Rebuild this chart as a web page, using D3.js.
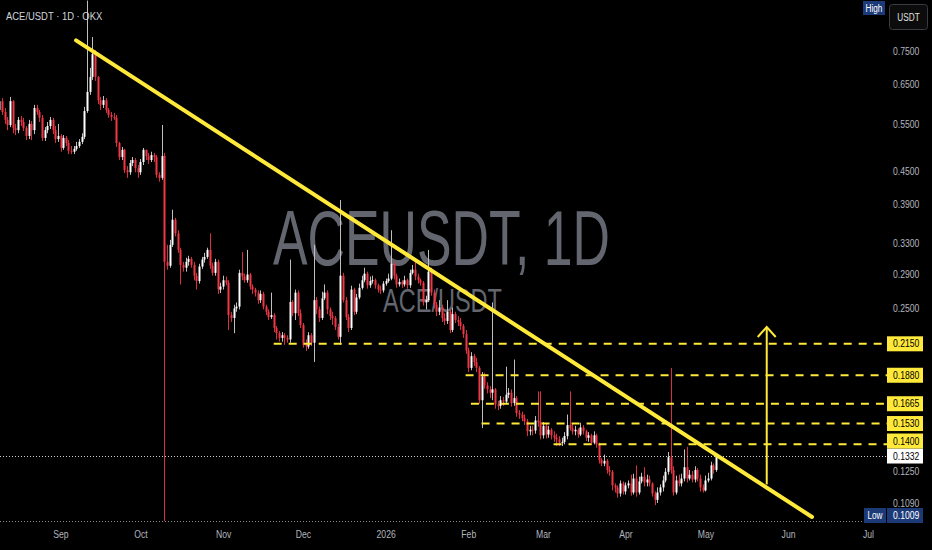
<!DOCTYPE html>
<html><head><meta charset="utf-8">
<script src="https://cdn.jsdelivr.net/npm/d3@7"></script>
<style>html,body{margin:0;padding:0;background:#000;}svg{display:block;}</style>
</head><body>
<svg id="c" width="932" height="550"></svg>
<script>
// ---------- DATA ----------
const firstDay = "2025-08-09";
const firstOpen = 0.583;
const closes = [
0.6055,0.578,0.559,0.547,0.6055,0.540,0.535,0.559,0.554,0.540,
0.522,0.5495,0.535,0.588,0.578,0.564,0.5175,0.535,0.5445,0.559,
0.535,0.515,0.522,0.496,0.5175,0.5065,0.490,0.488,0.494,0.500,
0.509,0.520,0.5805,0.630,0.6715,0.740,0.6715,0.608,0.596,0.608,
0.583,0.571,0.566,0.564,0.5065,0.477,0.492,0.451,0.447,0.465,
0.471,0.455,0.447,0.467,0.492,0.479,0.471,0.481,0.477,0.442,
0.4365,0.479,0.305,0.300,0.328,0.365,0.3445,0.321,0.301,0.2975,
0.305,0.309,0.301,0.2875,0.281,0.299,0.308,0.3115,0.321,0.300,
0.291,0.305,0.271,0.2745,0.282,0.279,0.243,0.240,0.250,0.252,
0.291,0.2865,0.282,0.289,0.2745,0.271,0.2675,0.259,0.266,0.252,
0.2465,0.241,0.243,0.230,0.225,0.2205,0.223,0.2205,0.219,0.257,
0.245,0.2675,0.245,0.233,0.214,0.2125,0.223,0.216,0.259,0.249,
0.240,0.261,0.2675,0.249,0.242,0.240,0.231,0.2215,0.2875,0.259,
0.241,0.230,0.271,0.2465,0.262,0.273,0.282,0.290,0.276,0.281,
0.282,0.276,0.271,0.270,0.278,0.281,0.284,0.3025,0.2875,0.277,
0.280,0.277,0.282,0.276,0.291,0.295,0.2865,0.282,0.279,0.2565,
0.259,0.2925,0.2675,0.254,0.2465,0.251,0.240,0.237,0.2465,0.228,
0.244,0.238,0.236,0.232,0.224,0.209,0.194,0.204,0.199,0.194,
0.169,0.187,0.180,0.177,0.1745,0.177,0.166,0.165,0.169,0.168,
0.173,0.1745,0.167,0.1705,0.160,0.159,0.1565,0.1545,0.148,0.149,
0.1485,0.155,0.154,0.1455,0.1515,0.146,0.149,0.1455,0.144,0.143,
0.141,0.1415,0.145,0.152,0.150,0.148,0.149,0.146,0.1505,0.148,
0.144,0.1455,0.141,0.1455,0.140,0.131,0.129,0.1305,0.1255,0.1245,
0.1175,0.1165,0.1135,0.1185,0.1145,0.1175,0.1185,0.114,0.121,0.114,
0.1195,0.122,0.119,0.1205,0.1185,0.1135,0.1105,0.114,0.1165,0.120,
0.1245,0.1325,0.1255,0.114,0.120,0.1185,0.121,0.127,0.121,0.123,
0.1205,0.1255,0.121,0.1165,0.115,0.120,0.121,0.128,0.1255,0.1332];
const highs = [
0.6165,0.6135,0.588,0.566,0.6165,0.608,0.5495,0.566,0.5685,0.564,
0.5445,0.559,0.5565,0.596,0.596,0.583,0.571,0.542,0.554,0.566,
0.564,0.5445,0.5495,0.526,0.524,0.522,0.513,0.500,0.500,0.509,
0.515,0.528,0.591,0.930,0.698,0.796,0.753,0.674,0.6165,0.619,
0.6135,0.588,0.578,0.576,0.571,0.509,0.498,0.494,0.459,0.471,
0.477,0.475,0.461,0.473,0.496,0.492,0.4855,0.488,0.4855,0.481,
0.447,0.547,0.4855,0.328,0.335,0.381,0.368,0.349,0.324,0.305,
0.3105,0.313,0.3115,0.305,0.291,0.3025,0.3115,0.317,0.324,0.3445,
0.304,0.309,0.308,0.279,0.2875,0.2865,0.282,0.2465,0.254,0.2565,
0.295,0.318,0.290,0.321,0.291,0.277,0.273,0.270,0.270,0.2685,
0.254,0.249,0.2675,0.245,0.232,0.227,0.226,0.225,0.223,0.308,
0.259,0.271,0.270,0.249,0.235,0.219,0.226,0.225,0.328,0.2625,
0.252,0.2685,0.277,0.270,0.251,0.2465,0.242,0.234,0.397,0.291,
0.2625,0.244,0.2755,0.273,0.266,0.278,0.2875,0.2975,0.2925,0.2865,
0.2875,0.284,0.278,0.2755,0.281,0.284,0.290,0.349,0.305,0.290,
0.284,0.282,0.2875,0.284,0.295,0.301,0.308,0.290,0.284,0.281,
0.264,0.321,0.2975,0.271,0.257,0.259,0.254,0.245,0.259,0.249,
0.251,0.2465,0.242,0.240,0.234,0.228,0.2115,0.2075,0.206,0.2025,
0.1955,0.1905,0.190,0.1825,0.1795,0.2565,0.178,0.1685,0.172,0.1715,
0.195,0.178,0.177,0.201,0.172,0.162,0.161,0.159,0.156,0.1515,
0.1515,0.158,0.1755,0.1755,0.154,0.1535,0.1515,0.150,0.148,0.1465,
0.145,0.144,0.1475,0.159,0.1755,0.153,0.1515,0.150,0.1535,0.152,
0.149,0.1475,0.1465,0.148,0.1465,0.141,0.132,0.134,0.1315,0.1275,
0.1255,0.1185,0.1175,0.120,0.1195,0.119,0.120,0.123,0.1235,0.128,
0.122,0.124,0.127,0.123,0.1225,0.119,0.1145,0.1165,0.118,0.1225,
0.1265,0.1355,0.194,0.1275,0.1225,0.123,0.1235,0.137,0.1385,0.1255,
0.125,0.1275,0.1265,0.123,0.118,0.1225,0.124,0.130,0.129,0.1345];
const lows = [
0.576,0.571,0.5495,0.535,0.542,0.528,0.524,0.528,0.5445,0.533,
0.513,0.515,0.513,0.526,0.571,0.554,0.511,0.511,0.528,0.5375,
0.526,0.5065,0.509,0.488,0.492,0.500,0.483,0.483,0.483,0.490,
0.496,0.504,0.515,0.576,0.622,0.663,0.660,0.598,0.583,0.588,
0.576,0.564,0.5565,0.559,0.498,0.471,0.471,0.4455,0.4365,0.442,
0.459,0.447,0.4365,0.442,0.461,0.471,0.463,0.467,0.467,0.4365,
0.4295,0.433,0.1009,0.295,0.2975,0.325,0.340,0.317,0.277,0.2925,
0.2925,0.300,0.2975,0.282,0.271,0.278,0.296,0.304,0.309,0.296,
0.2875,0.2875,0.266,0.267,0.271,0.276,0.228,0.236,0.225,0.2465,
0.249,0.282,0.279,0.279,0.271,0.266,0.263,0.255,0.256,0.249,
0.243,0.238,0.239,0.226,0.219,0.217,0.217,0.214,0.216,0.216,
0.242,0.238,0.242,0.230,0.2115,0.2085,0.2105,0.213,0.199,0.244,
0.236,0.238,0.259,0.244,0.238,0.233,0.228,0.219,0.214,0.2565,
0.238,0.226,0.228,0.243,0.244,0.260,0.271,0.2795,0.272,0.273,
0.278,0.272,0.2675,0.266,0.2675,0.2755,0.279,0.282,0.283,0.273,
0.2745,0.273,0.2745,0.272,0.273,0.289,0.282,0.278,0.2755,0.253,
0.249,0.257,0.264,0.250,0.242,0.243,0.236,0.233,0.234,0.225,
0.226,0.235,0.232,0.228,0.2205,0.206,0.1905,0.192,0.1955,0.1905,
0.1665,0.150,0.1775,0.174,0.1705,0.169,0.163,0.162,0.163,0.165,
0.1665,0.1705,0.1645,0.165,0.1575,0.156,0.1545,0.152,0.145,0.1455,
0.1455,0.1465,0.151,0.143,0.1435,0.1435,0.144,0.143,0.1415,0.139,
0.139,0.139,0.140,0.143,0.1485,0.146,0.1455,0.144,0.145,0.146,
0.142,0.1415,0.1395,0.140,0.138,0.129,0.1275,0.1275,0.1235,0.1225,
0.115,0.114,0.1115,0.112,0.113,0.113,0.116,0.1125,0.113,0.112,
0.113,0.1185,0.117,0.117,0.117,0.112,0.108,0.109,0.1125,0.1145,
0.119,0.123,0.1235,0.1125,0.113,0.117,0.117,0.1195,0.119,0.120,
0.119,0.119,0.1195,0.1145,0.114,0.1145,0.119,0.120,0.1235,0.1245];

const monthTicks = ["2025-09-01","2025-10-01","2025-11-01","2025-12-01","2026-01-01","2026-02-01","2026-03-01","2026-04-01","2026-05-01","2026-06-01","2026-07-01"];
const monthLabels = ["Sep","Oct","Nov","Dec","2026","Feb","Mar","Apr","May","Jun","Jul"];
const priceTicks = [0.75,0.65,0.55,0.45,0.39,0.33,0.29,0.25,0.125,0.109];
const levelPrices = [0.2150,0.1880,0.1665,0.1530,0.1400];
const levelStarts = ["2025-11-20","2026-01-31","2026-02-02","2026-02-06","2026-03-05"];
const trendDates = ["2025-09-06T20:00:00Z","2026-06-10T00:00:00Z"];
const trendPrices = [0.785,0.1027];
const arrowDate = "2026-05-24";
const arrowPrices = [0.118,0.231];
const lastPrice = 0.1332;
const lowPrice = 0.1009;
const titleText = "ACE/USDT · 1D · OKX";
const watermark = "ACEUSDT, 1D";
const watermarkSub = "ACE/USDT";

// ---------- SCALES ----------
const svg = d3.select("#c");
const W = 932, H = 550, paneR = 860, paneB = 527, axisX = 887;
const x = d3.scaleUtc().domain([new Date("2025-09-01"), new Date("2026-07-01")]).range([60.5, 868]);
const y = d3.scaleLog().domain([0.75, 0.109]).range([51, 503]);
const YEL = "#ffe93a", UP = "#ffffff", DN = "#f23645";

svg.append("rect").attr("width", W).attr("height", H).attr("fill", "#000");

const candles = closes.map((c, i) => ({
  date: d3.utcDay.offset(new Date(firstDay), i),
  o: i === 0 ? firstOpen : closes[i - 1], c, h: highs[i], l: lows[i]
}));

svg.append("defs").append("clipPath").attr("id", "pane")
  .append("rect").attr("x", 0).attr("y", 0).attr("width", paneR).attr("height", paneB);

// watermark
const wm = svg.append("g").attr("fill", "#63666f").attr("font-family", "Liberation Sans, Arial, sans-serif");
wm.append("text").attr("x", 273).attr("y", 265).attr("font-size", 78)
  .attr("textLength", 337).attr("lengthAdjust", "spacingAndGlyphs").text(watermark);
wm.append("text").attr("x", 383).attr("y", 312).attr("font-size", 33)
  .attr("textLength", 119).attr("lengthAdjust", "spacingAndGlyphs").text(watermarkSub);

const pane = svg.append("g").attr("clip-path", "url(#pane)");

// candles
const cg = pane.append("g");
candles.forEach(d => {
  const cx = Math.round(x(d.date));
  const up = d.c >= d.o;
  cg.append("line").attr("x1", cx + 0.5).attr("x2", cx + 0.5)
    .attr("y1", y(d.h)).attr("y2", y(d.l))
    .attr("stroke", up ? "#bfbfbf" : "#d8303f").attr("stroke-width", 1);
  const top = y(Math.max(d.o, d.c)), bot = y(Math.min(d.o, d.c));
  cg.append("rect").attr("x", cx - 0.5).attr("width", 2)
    .attr("y", top).attr("height", Math.max(1, bot - top))
    .attr("fill", up ? UP : DN);
});

// dotted price lines
svg.append("line").attr("x1", 0).attr("x2", axisX).attr("y1", Math.round(y(lastPrice)) + 0.5).attr("y2", Math.round(y(lastPrice)) + 0.5)
  .attr("stroke", "#d0d0d0").attr("stroke-width", 1).attr("stroke-dasharray", "1,2");
svg.append("line").attr("x1", 0).attr("x2", 864).attr("y1", Math.round(y(lowPrice)) + 0.5).attr("y2", Math.round(y(lowPrice)) + 0.5)
  .attr("stroke", "#8a8a8a").attr("stroke-width", 1).attr("stroke-dasharray", "1,2");

// dashed levels
levelPrices.forEach((p, i) => {
  const yy = y(p);
  svg.append("line").attr("x1", x(new Date(levelStarts[i]))).attr("x2", axisX)
    .attr("y1", yy).attr("y2", yy).attr("stroke", YEL).attr("stroke-width", 2)
    .attr("stroke-dasharray", "8,7");
});

// trend line
svg.append("line")
  .attr("x1", x(new Date(trendDates[0]))).attr("y1", y(trendPrices[0]))
  .attr("x2", x(new Date(trendDates[1]))).attr("y2", y(trendPrices[1]))
  .attr("stroke", YEL).attr("stroke-width", 4).attr("stroke-linecap", "round");

// arrow
const ax = x(new Date(arrowDate)), ay0 = y(arrowPrices[0]), ay1 = y(arrowPrices[1]);
svg.append("line").attr("x1", ax).attr("x2", ax).attr("y1", ay0).attr("y2", ay1)
  .attr("stroke", YEL).attr("stroke-width", 2);
svg.append("path").attr("d", `M${ax - 9},${ay1 + 10}L${ax},${ay1}L${ax + 9},${ay1 + 10}`)
  .attr("fill", "none").attr("stroke", YEL).attr("stroke-width", 2);

// axes
const fontFam = "Liberation Sans, Arial, sans-serif";
const xa = svg.append("g").attr("transform", `translate(0,${paneB - 1})`)
  .call(d3.axisBottom(x).tickValues(monthTicks.map(s => new Date(s)))
    .tickFormat((d, i) => monthLabels[i]).tickSize(0).tickPadding(5));
xa.select(".domain").remove();
xa.selectAll("text").attr("fill", "#b2b5be").attr("font-size", 10.5).attr("font-family", fontFam);

const ya = svg.append("g").attr("transform", `translate(${axisX},0)`)
  .call(d3.axisRight(y).tickValues(priceTicks).tickFormat(d3.format(".4f")).tickSize(0).tickPadding(6));
ya.select(".domain").remove();
ya.selectAll("text").attr("fill", "#b2b5be").attr("font-size", 10.5).attr("font-family", fontFam);

// price label boxes
const boxes = levelPrices.map(p => ({ p, bg: YEL, fg: "#000" }));
boxes.push({ p: lastPrice, bg: "#ffffff", fg: "#000" });
boxes.forEach(b => b.cy = y(b.p));
boxes.sort((a, b) => b.cy - a.cy);
for (let i = 1; i < boxes.length; i++) {
  if (boxes[i].cy > boxes[i - 1].cy - 15) boxes[i].cy = boxes[i - 1].cy - 15;
}
const lowBox = { p: lowPrice, bg: "#1c3a78", fg: "#ffffff", cy: Math.min(y(lowPrice), paneB - 11.5) };
boxes.push(lowBox);
const lb = svg.append("g");
boxes.forEach(b => {
  lb.append("rect").attr("x", axisX).attr("y", b.cy - 7.5).attr("width", 36).attr("height", 15).attr("fill", b.bg);
  lb.append("text").attr("x", axisX + 6).attr("y", b.cy).attr("dy", "0.35em")
    .attr("fill", b.fg).attr("font-size", 10.5).attr("font-family", fontFam).text(d3.format(".4f")(b.p));
});
lb.append("rect").attr("x", 864).attr("y", lowBox.cy - 7.5).attr("width", 22).attr("height", 15).attr("fill", "#1c3a78");
lb.append("text").attr("x", 875).attr("y", lowBox.cy).attr("dy", "0.35em").attr("text-anchor", "middle")
  .attr("fill", "#fff").attr("font-size", 10).attr("font-family", fontFam).text("Low");
lb.append("rect").attr("x", 863).attr("y", 1).attr("width", 22).attr("height", 14).attr("fill", "#1c3a78");
lb.append("text").attr("x", 874).attr("y", 8).attr("dy", "0.35em").attr("text-anchor", "middle")
  .attr("fill", "#fff").attr("font-size", 10).attr("font-family", fontFam).text("High");

// currency box
lb.append("rect").attr("x", 889.5).attr("y", 4.5).attr("width", 38).attr("height", 25).attr("rx", 3)
  .attr("fill", "#0c0c0c").attr("stroke", "#3a3c42");
lb.append("text").attr("x", 908.5).attr("y", 17).attr("dy", "0.35em").attr("text-anchor", "middle")
  .attr("fill", "#e0e0e0").attr("font-size", 10).attr("font-family", fontFam).text("USDT");

// title
svg.append("text").attr("x", 6).attr("y", 20).attr("fill", "#d1d4dc")
  .attr("font-size", 11.5).attr("font-family", fontFam).text(titleText);

// narrow the small texts to match the condensed look of the reference
svg.selectAll("text").each(function () {
  const t = d3.select(this);
  if (t.attr("textLength")) return;
  const len = this.getComputedTextLength();
  t.attr("textLength", len * 0.82).attr("lengthAdjust", "spacingAndGlyphs");
});
</script>
</body></html>
